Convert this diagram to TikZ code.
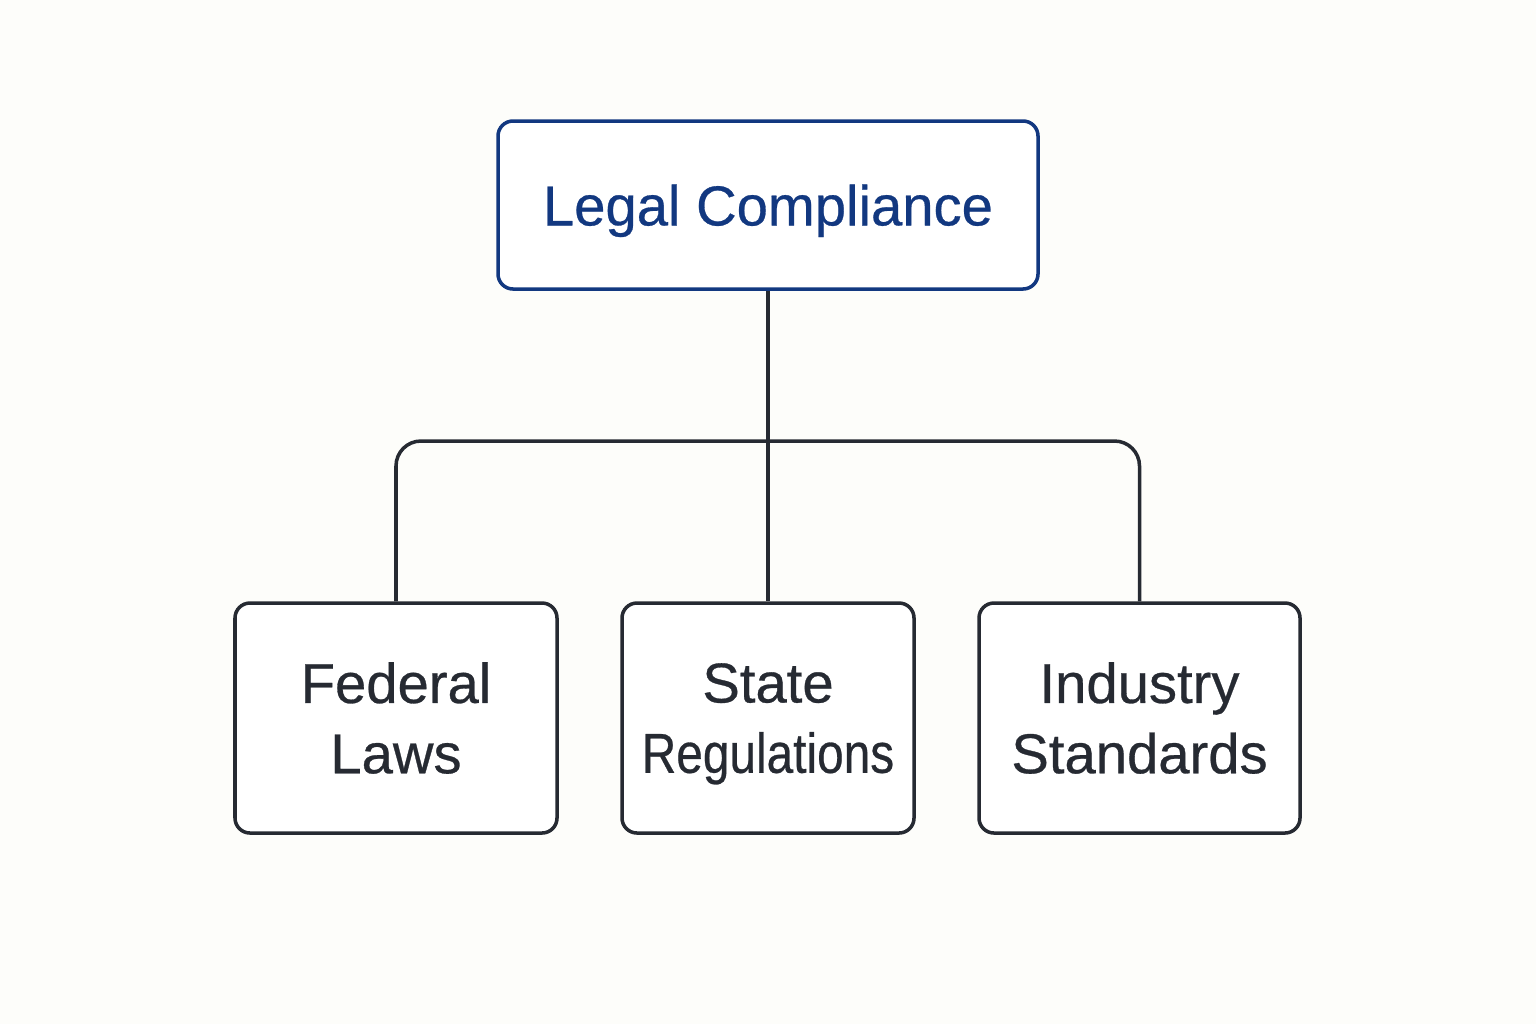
\documentclass[tikz,border=0pt]{standalone}
\usepackage{graphicx}
\usepackage{fontspec}
\setmainfont{Liberation Sans}
\newfontfamily\labelfont{Liberation Sans}[FakeBold=0.5]
\definecolor{legalblue}{RGB}{18,56,128}
\definecolor{boxgray}{RGB}{38,42,50}
\definecolor{paper}{RGB}{253,253,250}
\tikzset{
  topbox/.style={draw=legalblue,line width=2pt,rounded corners=0.3cm,fill=white,text depth=0pt,
    text=legalblue,minimum width=10.8cm,minimum height=3.36cm,font=\labelfont\fontsize{32}{40}\selectfont},
  subbox/.style={draw=boxgray,line width=2pt,rounded corners=0.3cm,fill=white,inner xsep=0pt,
    text=boxgray,minimum height=4.6cm,align=center,font=\labelfont\fontsize{32}{40}\selectfont},
  link/.style={draw=boxgray,line width=2pt}
}
\begin{document}
\begin{tikzpicture}
              \fill[paper] (0,0) rectangle (30.72,-20.48);
              \useasboundingbox (0,0) rectangle (30.72,-20.48);
              \node[topbox] (legal) at (15.36,-4.1) {Legal Compliance};
              \node[subbox,minimum width=6.44cm] (federal) at (7.92,-14.36) {Federal\\Laws};
              \node[subbox,minimum width=5.84cm,text depth=0pt] (state) at (15.36,-14.36) {State\\\scalebox{0.85}[1]{Regulations}};
              \node[subbox,minimum width=6.42cm] (industry) at (22.79,-14.36) {Industry\\Standards};
              \coordinate (bar) at (15.36,-8.82);
              \draw[link] (legal.south) -- (state.north);
              \draw[link,rounded corners=0.5cm] (federal.north) |- (bar) -| (industry.north);
        \end{tikzpicture}
\end{document}
